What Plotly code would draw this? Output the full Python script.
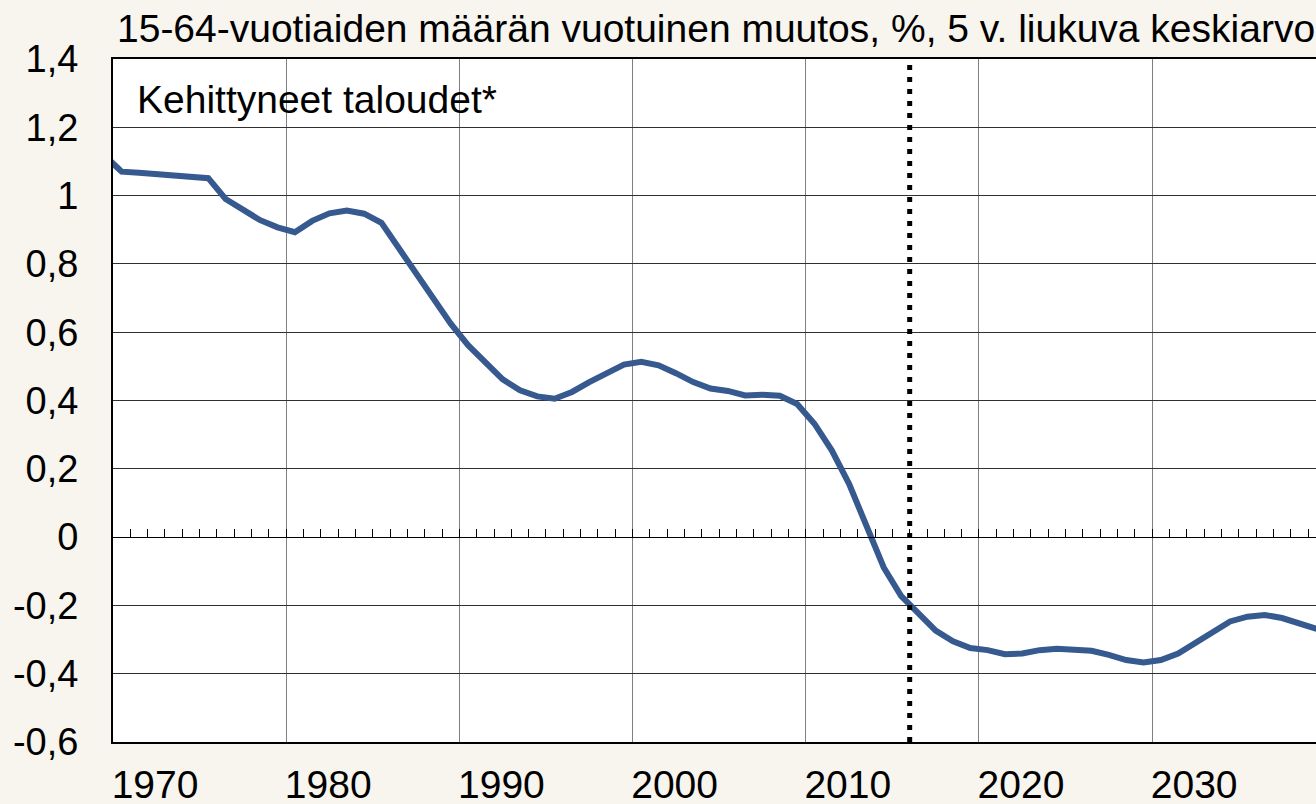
import plotly.graph_objects as go

TITLE = "15-64-vuotiaiden määrän vuotuinen muutos, %, 5 v. liukuva keskiarvo"
PANEL_LABEL = "Kehittyneet taloudet*"

YEARS = list(range(1969, 2040))
VALUES = [
    1.118,
    1.070, 1.067, 1.063, 1.058, 1.054, 1.051, 0.990, 0.957, 0.928, 0.907,
    0.893, 0.926, 0.948, 0.956, 0.947, 0.920, 0.845, 0.770, 0.697, 0.625,
    0.562, 0.510, 0.462, 0.430, 0.412, 0.405, 0.425, 0.454, 0.481, 0.505,
    0.513, 0.503, 0.480, 0.454, 0.435, 0.428, 0.415, 0.417, 0.414, 0.390,
    0.332, 0.254, 0.156, 0.030, -0.089, -0.172, -0.225, -0.274, -0.305, -0.325,
    -0.331, -0.343, -0.341, -0.331, -0.327, -0.331, -0.333, -0.345, -0.360, -0.367,
    -0.360, -0.341, -0.311, -0.276, -0.247, -0.233, -0.228, -0.237, -0.253, -0.269,
]
CATEGORY_OFFSET = 0.5  # points sit in the middle of each year category

Y_TICK_VALS = [1.4, 1.2, 1.0, 0.8, 0.6, 0.4, 0.2, 0.0, -0.2, -0.4, -0.6]
Y_TICK_TEXT = ["1,4", "1,2", "1", "0,8", "0,6", "0,4", "0,2", "0", "-0,2", "-0,4", "-0,6"]
X_TICK_VALS = [1970, 1980, 1990, 2000, 2010, 2020, 2030]
X_TICK_TEXT = ["1970", "1980", "1990", "2000", "2010", "2020", "2030"]

FORECAST_START = 2016
X_RANGE = [1970, 2039.46]
Y_RANGE = [-0.6, 1.4]

FONT = "Liberation Sans, Arial, sans-serif"
LINE_COLOR = "#36598f"
PAPER = "#f8f4ee"

fig = go.Figure()
fig.add_trace(go.Scatter(
    x=[y + CATEGORY_OFFSET for y in YEARS], y=VALUES,
    mode="lines", line=dict(color=LINE_COLOR, width=6),
    showlegend=False, hoverinfo="skip", cliponaxis=True,
))
# helper trace so the zero-line tick axis is drawn
fig.add_trace(go.Scatter(
    x=[FORECAST_START], y=[0], xaxis="x2", mode="markers",
    marker=dict(opacity=0), showlegend=False, hoverinfo="skip",
))

zero_pos = (0 - Y_RANGE[0]) / (Y_RANGE[1] - Y_RANGE[0])

fig.update_layout(
    width=1316, height=804,
    margin=dict(l=113, r=0, t=59, b=62, autoexpand=False),
    paper_bgcolor=PAPER, plot_bgcolor="white",
    font=dict(family=FONT, color="black", size=39),
    title=dict(text=TITLE, xref="container", x=117 / 1316, xanchor="left",
               yref="container", y=1 - 28 / 804, yanchor="middle",
               font=dict(family=FONT, size=39, color="black")),
    xaxis=dict(
        range=X_RANGE, tickvals=X_TICK_VALS, ticktext=X_TICK_TEXT,
        showgrid=True, gridcolor="#808080", gridwidth=1.2,
        showline=True, linecolor="black", linewidth=2, mirror=True,
        ticks="", ticklabelshift=42, ticklabelstandoff=7,
        tickfont=dict(size=39), zeroline=False, automargin=False,
    ),
    xaxis2=dict(
        range=X_RANGE, overlaying="x", anchor="free", position=zero_pos,
        tick0=1970, dtick=1, ticks="inside", ticklen=8, tickwidth=1.2,
        tickcolor="black", showticklabels=False, showgrid=False,
        showline=True, linecolor="black", linewidth=1.2, zeroline=False,
        automargin=False,
    ),
    yaxis=dict(
        range=Y_RANGE, tickvals=Y_TICK_VALS, ticktext=Y_TICK_TEXT,
        showgrid=True, gridcolor="#303030", gridwidth=1,
        showline=True, linecolor="black", linewidth=2, mirror=False,
        ticks="", ticklabelstandoff=25, tickfont=dict(size=38), zeroline=False,
        automargin=False,
    ),
    shapes=[dict(
        type="line", xref="x", yref="paper", x0=FORECAST_START, x1=FORECAST_START,
        y0=0, y1=1, layer="above",
        line=dict(color="black", width=5, dash="5px,7px"),
    )],
    annotations=[dict(
        text=PANEL_LABEL, xref="paper", yref="paper", x=0, y=0.94,
        xanchor="left", yanchor="middle", xshift=22, showarrow=False,
        font=dict(family=FONT, size=39, color="black"),
    )],
)

fig.write_html(
    "out.html",
    config={"displayModeBar": False},
    post_script="document.body.style.margin='0';document.body.style.overflow='hidden';"
                "document.body.style.background='" + PAPER + "';",
)
